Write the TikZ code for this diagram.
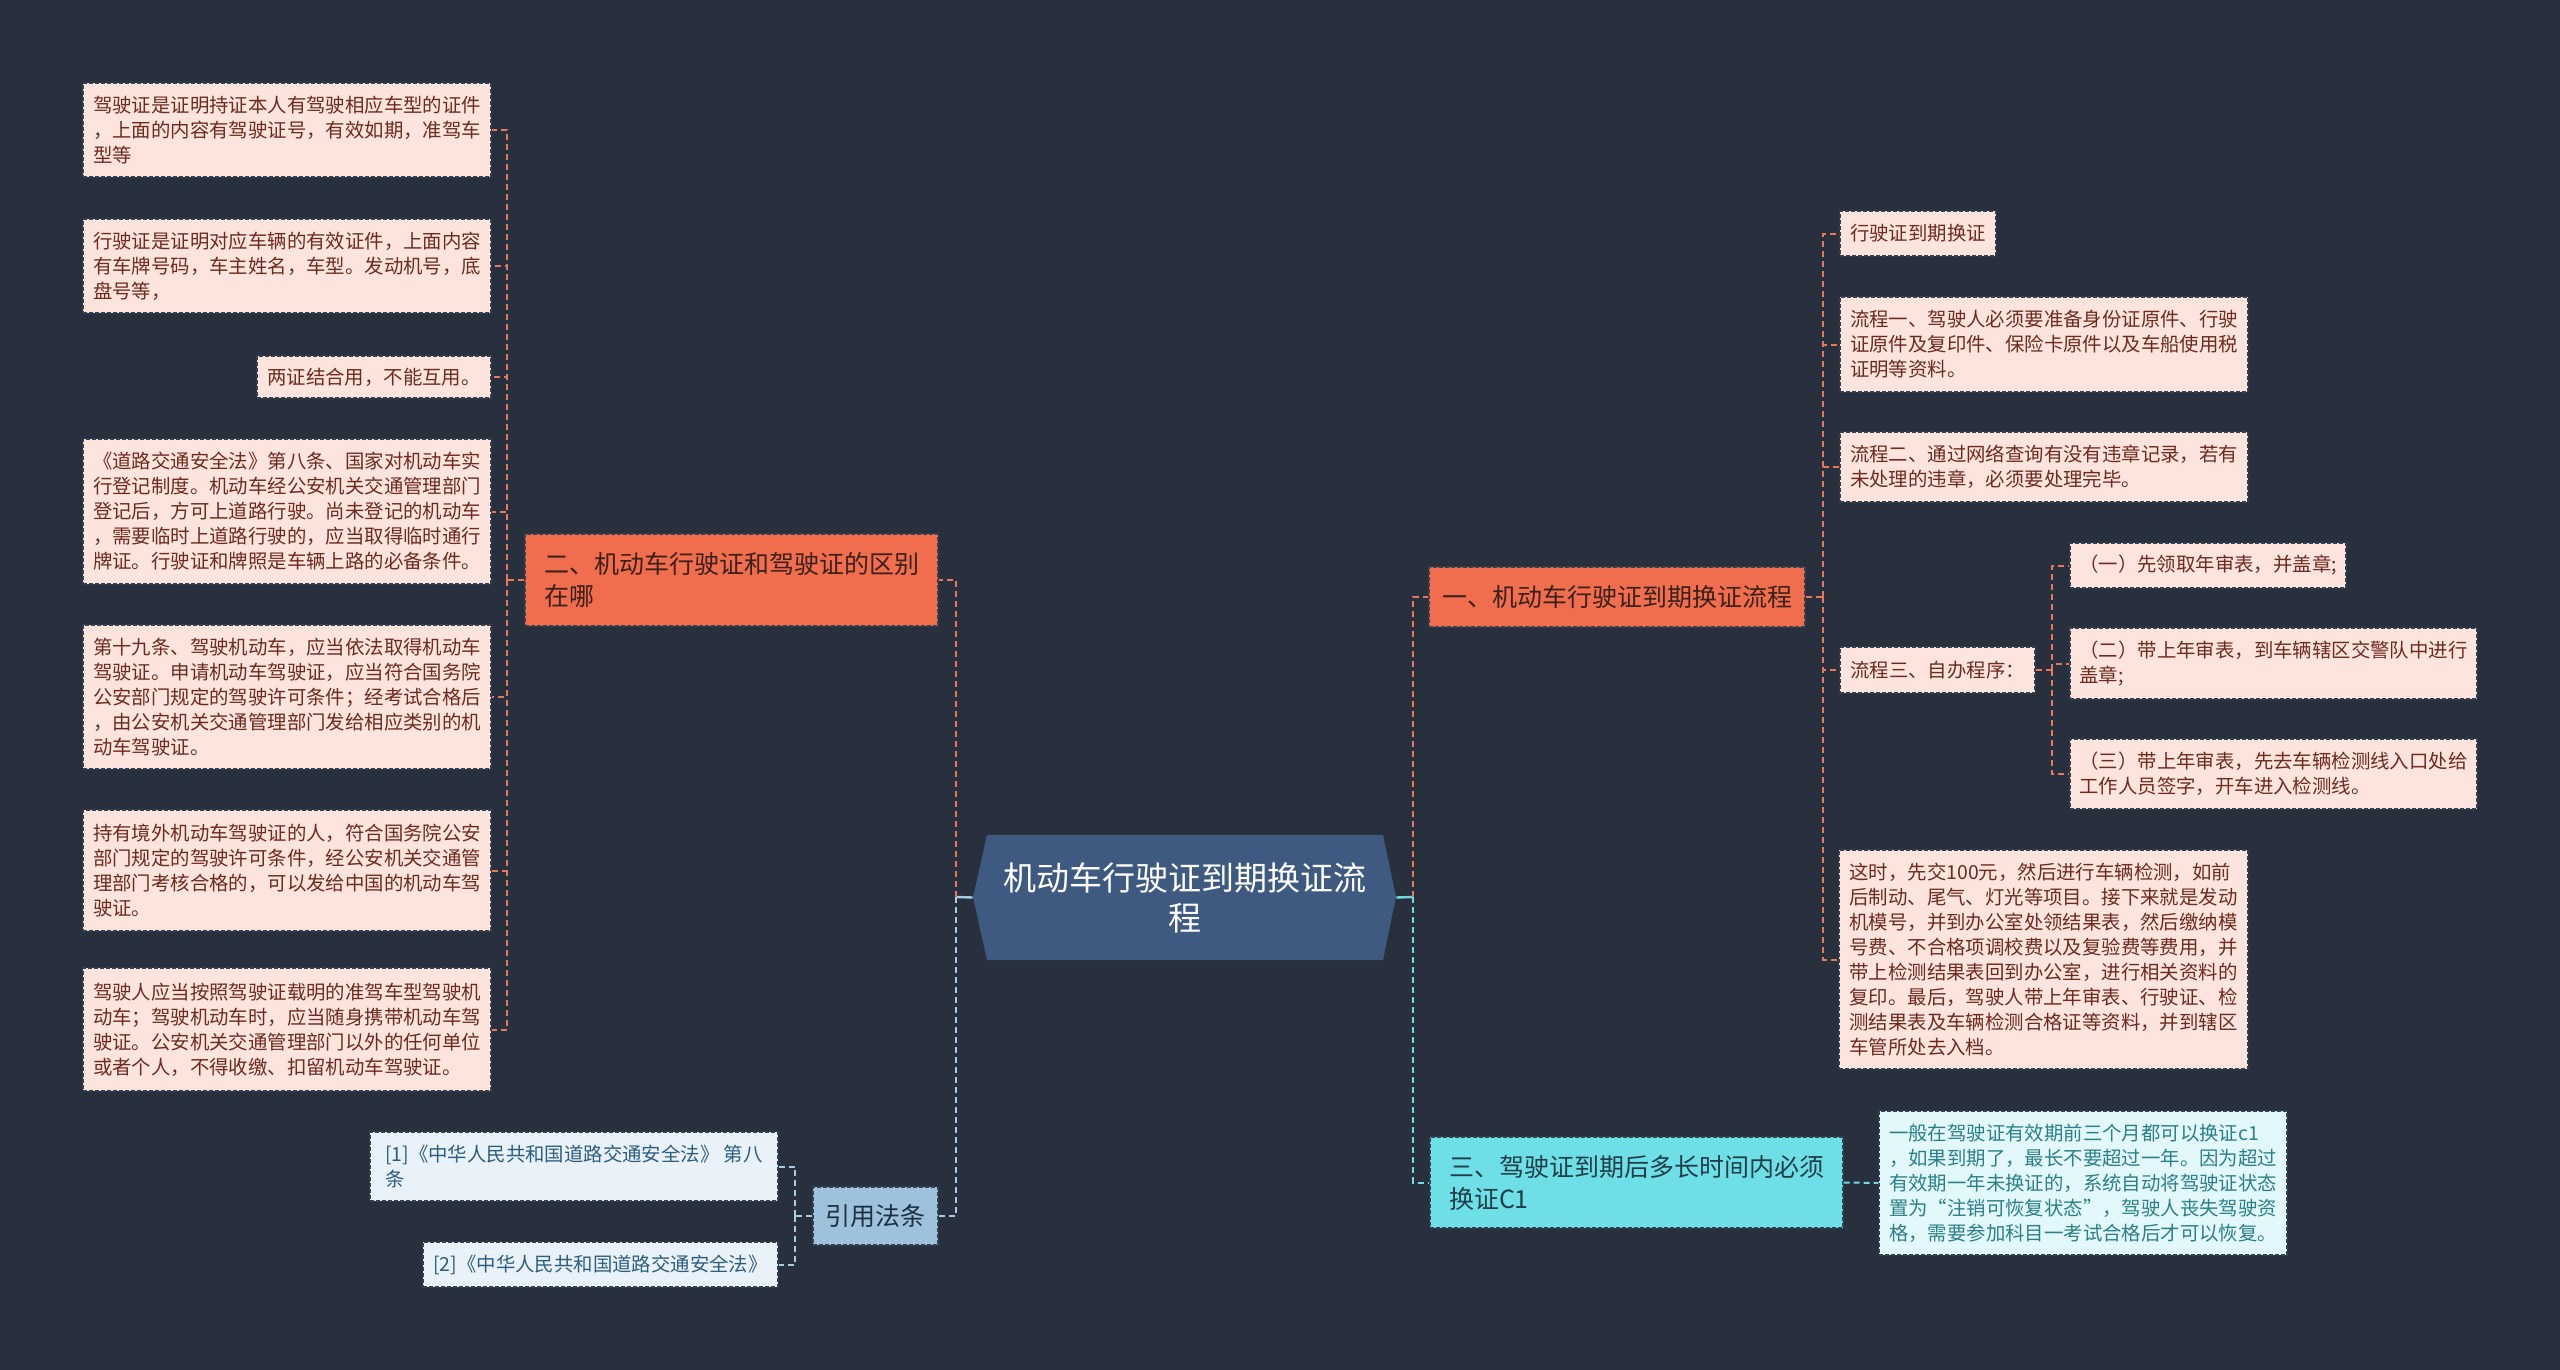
\documentclass[tikz,border=0pt]{standalone}
\usepackage{fontspec}
\setmainfont{Noto Sans CJK SC}
\definecolor{bgc}{HTML}{28303E}
\definecolor{rootc}{HTML}{3E5A80}
\definecolor{orgc}{HTML}{F06D4E}
\definecolor{orgtxt}{HTML}{3A2119}
\definecolor{pinkc}{HTML}{FDE4DD}
\definecolor{pinktxt}{HTML}{6E2A1E}
\definecolor{olc}{HTML}{E8775C}
\definecolor{bluec}{HTML}{9EC2DC}
\definecolor{bluetxt}{HTML}{1C3040}
\definecolor{bleafc}{HTML}{E9F2F8}
\definecolor{bleaftxt}{HTML}{2B5D80}
\definecolor{blc}{HTML}{A6CCE6}
\definecolor{cyanc}{HTML}{6EDFE6}
\definecolor{cyantxt}{HTML}{1F3E48}
\definecolor{cleafc}{HTML}{E3F8FA}
\definecolor{cleaftxt}{HTML}{2A8088}
\definecolor{clc}{HTML}{6FDBE3}
\definecolor{edgec}{HTML}{334050}
\newcommand\bx[7]{%
  \pgfmathsetmacro\bxw{(#4-#2)*0.5}%
  \pgfmathsetmacro\bxh{(#5-#3)*0.5}%
  \node[#6, minimum width=\bxw pt, minimum height=\bxh pt] (#1) at ({(#2+#4)/2},{(#3+#5)/2}) {#7};}
\begin{document}
\begin{tikzpicture}[x=0.5pt,y=-0.5pt,
  boxbase/.style={rectangle, inner sep=2pt, draw=edgec, line width=0.6pt, dash pattern=on 2pt off 1pt},
  leaf/.style={boxbase, fill=pinkc, text=pinktxt, align=left, font=\fontsize{9.7pt}{12.5pt}\selectfont},
  org/.style={boxbase, fill=orgc, text=orgtxt, align=left, font=\fontsize{12.5pt}{16pt}\selectfont},
  blu/.style={boxbase, fill=bluec, text=bluetxt, align=left, font=\fontsize{12.5pt}{16pt}\selectfont},
  bleaf/.style={boxbase, fill=bleafc, text=bleaftxt, align=left, font=\fontsize{9.7pt}{12.5pt}\selectfont},
  cya/.style={boxbase, fill=cyanc, text=cyantxt, align=left, font=\fontsize{12.5pt}{16pt}\selectfont},
  cleaf/.style={boxbase, fill=cleafc, text=cleaftxt, align=left, font=\fontsize{9.7pt}{12.5pt}\selectfont},
  rootbox/.style={rectangle, inner sep=2pt, text=white, align=center, font=\fontsize{16.5pt}{20pt}\selectfont},
  oline/.style={draw=olc, line width=1pt, dash pattern=on 3pt off 2pt},
  bline/.style={draw=blc, line width=1pt, dash pattern=on 3pt off 2pt},
  cline/.style={draw=clc, line width=1pt, dash pattern=on 3pt off 2pt},
  bsolid/.style={draw=blc, line width=1.2pt},
  csolid/.style={draw=clc, line width=1.2pt}]
\fill[bgc] (0,0) rectangle (2560,1370);
\useasboundingbox (0,0) rectangle (2560,1370);

% root hexagon
\fill[rootc] (973,897) -- (987,835) -- (1383,835) -- (1396,897) -- (1383,960) -- (987,960) -- cycle;
\bx{root}{973}{835}{1396}{960}{rootbox}{机动车行驶证到期换证流\\程}

% left branch
\bx{b2}{525}{534}{938}{626}{org}{二、机动车行驶证和驾驶证的区别\\在哪}
\bx{L1}{83}{83}{491}{177}{leaf}{驾驶证是证明持证本人有驾驶相应车型的证件\\，上面的内容有驾驶证号，有效如期，准驾车\\型等}
\bx{L2}{83}{219}{491}{313}{leaf}{行驶证是证明对应车辆的有效证件，上面内容\\有车牌号码，车主姓名，车型。发动机号，底\\盘号等，}
\bx{L3}{257}{356}{491}{398}{leaf}{两证结合用，不能互用。}
\bx{L4}{83}{439}{491}{584}{leaf}{《道路交通安全法》第八条、国家对机动车实\\行登记制度。机动车经公安机关交通管理部门\\登记后，方可上道路行驶。尚未登记的机动车\\，需要临时上道路行驶的，应当取得临时通行\\牌证。行驶证和牌照是车辆上路的必备条件。}
\bx{L5}{83}{625}{491}{769}{leaf}{第十九条、驾驶机动车，应当依法取得机动车\\驾驶证。申请机动车驾驶证，应当符合国务院\\公安部门规定的驾驶许可条件；经考试合格后\\，由公安机关交通管理部门发给相应类别的机\\动车驾驶证。}
\bx{L6}{83}{810}{491}{931}{leaf}{持有境外机动车驾驶证的人，符合国务院公安\\部门规定的驾驶许可条件，经公安机关交通管\\理部门考核合格的，可以发给中国的机动车驾\\驶证。}
\bx{L7}{83}{968}{491}{1091}{leaf}{驾驶人应当按照驾驶证载明的准驾车型驾驶机\\动车；驾驶机动车时，应当随身携带机动车驾\\驶证。公安机关交通管理部门以外的任何单位\\或者个人，不得收缴、扣留机动车驾驶证。}

% citation branch
\bx{b4}{813}{1187}{938}{1245}{blu}{引用法条}
\bx{B1}{370}{1132}{778}{1201}{bleaf}{[1]《中华人民共和国道路交通安全法》 第八\\条}
\bx{B2}{423}{1242}{778}{1287}{bleaf}{[2]《中华人民共和国道路交通安全法》}

% right branch 1
\bx{b1}{1429}{567}{1805}{627}{org}{一、机动车行驶证到期换证流程}
\bx{R1}{1840}{211}{1996}{256}{leaf}{行驶证到期换证}
\bx{R2}{1840}{297}{2248}{392}{leaf}{流程一、驾驶人必须要准备身份证原件、行驶\\证原件及复印件、保险卡原件以及车船使用税\\证明等资料。}
\bx{R3}{1840}{432}{2248}{502}{leaf}{流程二、通过网络查询有没有违章记录，若有\\未处理的违章，必须要处理完毕。}
\bx{R4}{1840}{647}{2035}{693}{leaf}{流程三、自办程序：}
\bx{R4a}{2070}{543}{2346}{588}{leaf}{（一）先领取年审表，并盖章;}
\bx{R4b}{2070}{628}{2477}{699}{leaf}{（二）带上年审表，到车辆辖区交警队中进行\\盖章;}
\bx{R4c}{2070}{739}{2477}{809}{leaf}{（三）带上年审表，先去车辆检测线入口处给\\工作人员签字，开车进入检测线。}
\bx{R5}{1839}{850}{2248}{1069}{leaf}{这时，先交100元，然后进行车辆检测，如前\\后制动、尾气、灯光等项目。接下来就是发动\\机模号，并到办公室处领结果表，然后缴纳模\\号费、不合格项调校费以及复验费等费用，并\\带上检测结果表回到办公室，进行相关资料的\\复印。最后，驾驶人带上年审表、行驶证、检\\测结果表及车辆检测合格证等资料，并到辖区\\车管所处去入档。}

% right branch 3
\bx{b3}{1430}{1137}{1843}{1228}{cya}{三、驾驶证到期后多长时间内必须\\换证C1}
\bx{C}{1879}{1111}{2287}{1255}{cleaf}{一般在驾驶证有效期前三个月都可以换证c1\\，如果到期了，最长不要超过一年。因为超过\\有效期一年未换证的，系统自动将驾驶证状态\\置为“注销可恢复状态”，驾驶人丧失驾驶资\\格，需要参加科目一考试合格后才可以恢复。}

% trunk coordinates
\coordinate (tL) at (956,897);
\coordinate (tR) at (1413,897);
\coordinate (t2) at (507,580);
\coordinate (tB) at (795,1216);
\coordinate (t1) at (1823,597);
\coordinate (t4) at (2052,670);

% root connectors
\draw[bsolid] (root.west) -- (tL);
\draw[oline] (tL) |- (b2.east);
\draw[bline] (tL) |- (b4.east);
\draw[csolid] (root.east) -- (tR);
\draw[oline] (tR) |- (b1.west);
\draw[cline] (tR) |- (b3.west);

% left leaves
\draw[oline] (b2.west) -- (t2);
\foreach \n in {L1,L2,L3,L4,L5,L6,L7} \draw[oline] (t2) |- (\n.east);

% citations
\draw[bline] (b4.west) -- (tB);
\draw[bline] (tB) |- (B1.east);
\draw[bline] (tB) |- (B2.east);

% right leaves
\draw[oline] (b1.east) -- (t1);
\foreach \n in {R1,R2,R3,R4,R5} \draw[oline] (t1) |- (\n.west);
\draw[oline] (R4.east) -- (t4);
\foreach \n in {R4a,R4b,R4c} \draw[oline] (t4) |- (\n.west);

% cyan
\draw[cline] (b3.east) -- (C.west);
\end{tikzpicture}
\end{document}
